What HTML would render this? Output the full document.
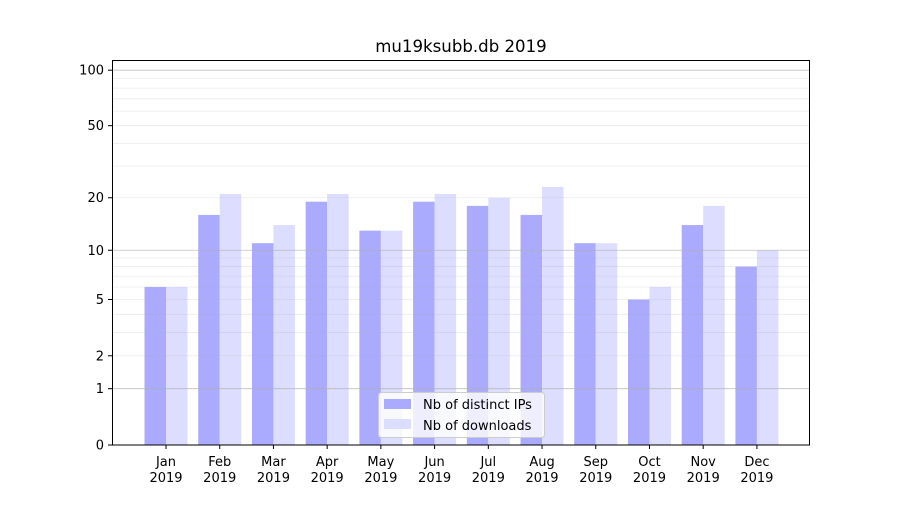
<!DOCTYPE html>
<html><head><meta charset="utf-8"><style>
body{margin:0;background:#fff}
svg text{font-family:"DejaVu Sans","Liberation Sans",sans-serif;fill:#000}
</style></head><body>
<svg id="s" width="900" height="500" xmlns="http://www.w3.org/2000/svg"></svg>
<script>
const s=document.getElementById('s');
const Y=v=>445-187*Math.log10(1+v);
let h='';
const ip=[6,16,11,19,13,19,18,16,11,5,14,8], dl=[6,21,14,21,13,21,20,23,11,6,18,10];
const m=['Jan','Feb','Mar','Apr','May','Jun','Jul','Aug','Sep','Oct','Nov','Dec'];
for(let i=0;i<12;i++){const c=166+i*53.72;
h+=`<rect x="${c-21.5}" y="${Y(ip[i])}" width="21.5" height="${445-Y(ip[i])}" fill="#aaaaff"/>`;
h+=`<rect x="${c}" y="${Y(dl[i])}" width="21.5" height="${445-Y(dl[i])}" fill="#ddddff"/>`;
h+=`<line x1="${c}" x2="${c}" y1="445" y2="449" stroke="#000"/>`;
h+=`<text x="${c}" y="466" font-size="13" text-anchor="middle">${m[i]}</text><text x="${c}" y="482" font-size="13" text-anchor="middle">2019</text>`;}
const minor=[2,3,4,5,6,7,8,9,20,30,40,50,60,70,80,90];
minor.forEach(v=>h+=`<line x1="112" x2="810" y1="${Y(v)}" y2="${Y(v)}" stroke="#b0b0b0" stroke-opacity="0.25" stroke-width="0.8"/>`);
[1,10,100].forEach(v=>h+=`<line x1="112" x2="810" y1="${Y(v)}" y2="${Y(v)}" stroke="#b0b0b0" stroke-opacity="0.8" stroke-width="0.8"/>`);
[0,1,2,5,10,20,50,100].forEach(v=>{h+=`<line x1="108" x2="112" y1="${Y(v)}" y2="${Y(v)}" stroke="#000"/><text x="104" y="${Y(v)+4.5}" font-size="13" text-anchor="end">${v}</text>`;});
h+=`<rect x="112.5" y="60.5" width="697" height="384.5" fill="none" stroke="#000"/>`;
h+=`<text x="461" y="52" font-size="16.6" text-anchor="middle">mu19ksubb.db 2019</text>`;
h+=`<rect x="378.5" y="392.5" width="166" height="45" rx="3" fill="#fff" fill-opacity="0.8" stroke="#ccc"/>`;
h+=`<rect x="384" y="399" width="27" height="10" fill="#aaaaff"/><text x="423" y="409" font-size="13">Nb of distinct IPs</text>`;
h+=`<rect x="384" y="419" width="27" height="10" fill="#ddddff"/><text x="423" y="430" font-size="13">Nb of downloads</text>`;
s.innerHTML=h;
</script>
</body></html>
